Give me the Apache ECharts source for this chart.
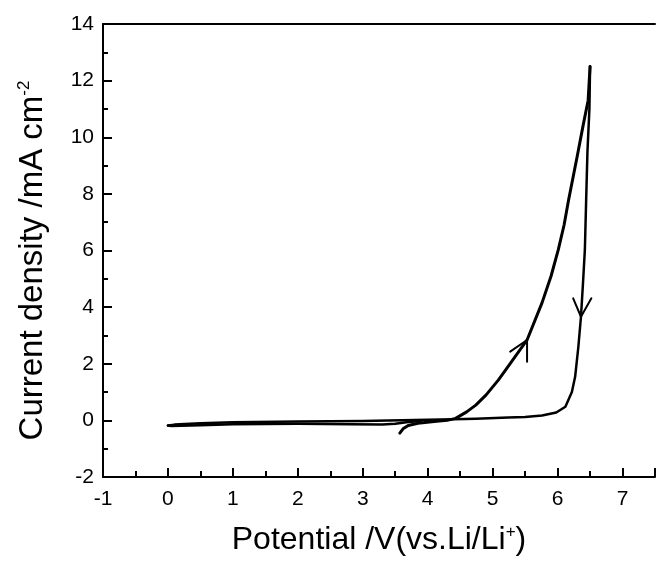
<!DOCTYPE html>
<html><head><meta charset="utf-8">
<script src="https://cdn.jsdelivr.net/npm/echarts@6/dist/echarts.min.js"></script>
<style>html,body{margin:0;padding:0;background:#fff}#c{width:658px;height:564px}</style>
</head><body><div id="c"></div>
<script>
// Cyclic voltammogram path (potential V, current density mA cm^-2), in scan order
var forwardScan = [[3.57,-0.45],[3.62,-0.3],[3.7,-0.18],[3.85,-0.1],[4.1,-0.04],[4.3,0.0],[4.43,0.07],[4.6,0.3],[4.74,0.54],[4.9,0.9],[5.09,1.43],[5.3,2.1],[5.53,2.84],[5.76,4.15],[5.9,5.1],[6.01,6.02],[6.1,6.9],[6.17,7.79],[6.3,9.3],[6.4,10.5],[6.47,11.3],[6.5,12.5]];
var reverseScan = [[6.5,12.5],[6.49,11.0],[6.46,9.5],[6.44,7.79],[6.42,6.02],[6.39,4.8],[6.36,3.66],[6.32,2.6],[6.27,1.54],[6.22,1.0],[6.12,0.48],[5.98,0.28],[5.76,0.17],[5.5,0.12],[5.24,0.1],[4.74,0.06],[4.4,0.04],[4.0,0.02],[3.0,-0.02],[2.0,-0.04],[1.0,-0.07],[0.5,-0.1],[0.1,-0.15],[0.0,-0.18]];
var returnScan = [[0.0,-0.18],[0.05,-0.2],[0.5,-0.17],[1.0,-0.14],[2.0,-0.12],[2.8,-0.14],[3.3,-0.15],[3.5,-0.12],[3.7,-0.06],[3.9,-0.02]];
var arrowUp = [[5.27,2.43],[5.53,2.84],[5.53,2.07]];
var arrowDown = [[6.24,4.31],[6.36,3.66],[6.52,4.31]];
var xTicks = {min:-1, max:7.5, interval:1};
var yTicks = {min:-2, max:14, interval:2};

var chart = echarts.init(document.getElementById('c'), null, {renderer:'canvas'});
var font = 'Liberation Sans, Arial, sans-serif';
function lineSeries(d, w){
  return {type:'line', data:d, symbol:'none', smooth:false, xAxisIndex:0, yAxisIndex:0,
    lineStyle:{color:'#000', width:w, join:'round', cap:'round'}, silent:true, animation:false};
}
var supStyle = {fontSize:17, verticalAlign:'top', padding:[0,0,14,0], fontFamily:font, color:'#000'};
chart.setOption({
  animation:false,
  backgroundColor:'#fff',
  grid:{left:103, right:0, top:24, bottom:87, containLabel:false},
  xAxis:[{
    type:'value', min:xTicks.min, max:xTicks.max, interval:xTicks.interval,
    axisLine:{show:true, onZero:false, lineStyle:{color:'#000', width:2}},
    axisTick:{show:true, inside:true, length:9, lineStyle:{color:'#000', width:2}},
    minorTick:{show:true, splitNumber:2, length:6, lineStyle:{color:'#000', width:2}},
    splitLine:{show:false},
    axisLabel:{color:'#000', fontSize:21, fontFamily:font, margin:12,
      formatter:function(v){return v>7.2?'':String(v);}},
    name:'Potential /V(vs.Li/Li{sup|+})', nameLocation:'middle', nameGap:47,
    nameTextStyle:{color:'#000', fontSize:32, fontFamily:font, rich:{sup:supStyle}}
  },{
    type:'value', position:'top', min:xTicks.min, max:xTicks.max,
    axisLine:{show:true, onZero:false, lineStyle:{color:'#000', width:2}},
    axisTick:{show:false}, axisLabel:{show:false}, splitLine:{show:false}
  }],
  yAxis:[{
    type:'value', min:yTicks.min, max:yTicks.max, interval:yTicks.interval,
    axisLine:{show:true, onZero:false, lineStyle:{color:'#000', width:2}},
    axisTick:{show:true, inside:true, length:9, lineStyle:{color:'#000', width:2}},
    minorTick:{show:true, splitNumber:2, length:5, lineStyle:{color:'#000', width:2}},
    splitLine:{show:false},
    axisLabel:{color:'#000', fontSize:21, fontFamily:font, margin:9},
    name:'Current density /mA cm{sup|-2}', nameLocation:'middle', nameGap:54,
    nameTextStyle:{color:'#000', fontSize:33, fontFamily:font, padding:[0,20,0,0], rich:{sup:supStyle}}
  }],
  series:[
    lineSeries(forwardScan, 3),
    lineSeries(reverseScan, 2.5),
    lineSeries(returnScan, 2.5),
    lineSeries(arrowUp, 2),
    lineSeries(arrowDown, 2)
  ]
});
</script></body></html>
